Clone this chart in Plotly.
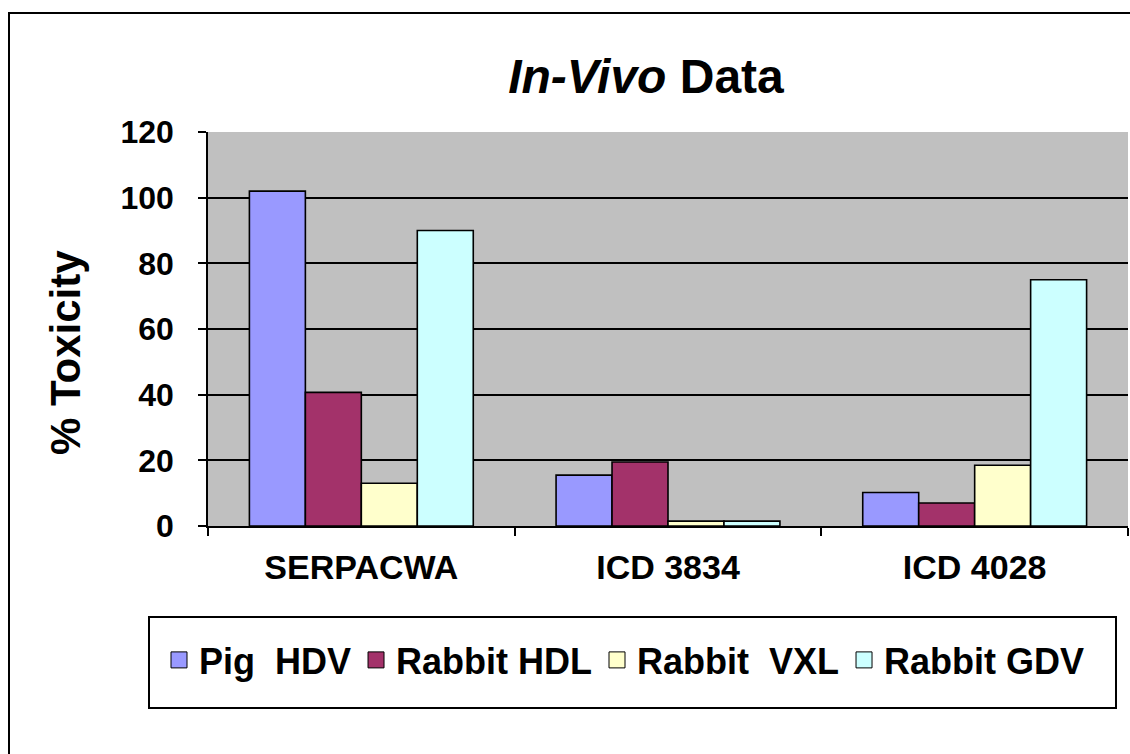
import plotly.graph_objects as go

categories = ["SERPACWA", "ICD 3834", "ICD 4028"]
series_names = ["Pig\u00a0 HDV", "Rabbit HDL", "Rabbit\u00a0 VXL", "Rabbit GDV"]
pig_hdv = [102, 15.5, 10.2]
rabbit_hdl = [40.7, 19.5, 7.0]
rabbit_vxl = [13.0, 1.5, 18.5]
rabbit_gdv = [90.0, 1.5, 75.0]
colors = ["#9999FF", "#A3326A", "#FFFFCC", "#CCFFFF"]
y_ticks = [0, 20, 40, 60, 80, 100, 120]

W, H = 1130, 754
L, R, T, B = 208, 1128, 132, 526
pw, ph = R - L, B - T

def px(x):
    return (x - L) / pw

def py(y):
    return (B - y) / ph

FONT = "Liberation Sans, Arial, sans-serif"

fig = go.Figure()
for name, vals, col in zip(series_names, [pig_hdv, rabbit_hdl, rabbit_vxl, rabbit_gdv], colors):
    fig.add_trace(go.Bar(
        x=categories, y=vals, name=name, showlegend=False, legendgroup=name,
        marker=dict(color=col, line=dict(color="black", width=1.6)),
    ))
# legend entries (larger square swatches than the default bar icon)
for name, col in zip(series_names, colors):
    fig.add_trace(go.Scatter(
        x=[None], y=[None], mode="markers", name=name, legendgroup=name,
        marker=dict(symbol="square", size=16, color=col, line=dict(color="black", width=1)),
    ))

fig.update_layout(
    width=W, height=H,
    margin=dict(l=L, r=W - R, t=T, b=H - B, pad=0),
    paper_bgcolor="white",
    plot_bgcolor="#C0C0C0",
    barmode="group",
    bargap=0.27,
    bargroupgap=0,
    font=dict(family=FONT, color="black", size=30, weight="bold"),
    title=dict(
        text="<b><i>In-Vivo</i> Data</b>",
        font=dict(family=FONT, size=48, color="black"),
        xref="paper", x=px(646), xanchor="center",
        yref="container", y=1 - 76 / H, yanchor="middle",
    ),
    showlegend=True,
    legend=dict(
        orientation="h",
        xref="paper", yref="paper",
        x=px(159), xanchor="left",
        y=py(660), yanchor="middle",
        bgcolor="rgba(0,0,0,0)",
        borderwidth=0,
        font=dict(family=FONT, size=36, color="black", weight="bold"),
        traceorder="normal",
        itemclick=False, itemdoubleclick=False,
    ),
)

fig.update_xaxes(
    type="category",
    range=[-0.5, 2.5],
    tickson="boundaries",
    ticks="outside", ticklen=8, tickwidth=1.5, tickcolor="black",
    showline=True, linecolor="black", linewidth=1.5,
    showgrid=False,
    tickfont=dict(family=FONT, size=34, color="black", weight="bold"),
    ticklabelstandoff=10,
)
fig.update_yaxes(
    range=[0, 120],
    tickvals=y_ticks,
    ticks="outside", ticklen=8, tickwidth=1.5, tickcolor="black",
    showline=True, linecolor="black", linewidth=1.5,
    showgrid=True, gridcolor="black", gridwidth=1.5,
    zeroline=False,
    tickfont=dict(family=FONT, size=32, color="black", weight="bold"),
    ticklabelstandoff=18,
)

# y axis title
fig.add_annotation(
    text="<b>% Toxicity</b>", textangle=-90,
    xref="paper", yref="paper", x=px(65), y=py(353),
    xanchor="center", yanchor="middle", showarrow=False,
    font=dict(family=FONT, size=42, color="black"),
)

# outer chart border
fig.add_shape(type="rect", xref="paper", yref="paper",
              x0=px(9), x1=px(1145), y0=py(770), y1=py(13),
              line=dict(color="black", width=2), fillcolor="rgba(0,0,0,0)", layer="below")
# legend box
fig.add_shape(type="rect", xref="paper", yref="paper",
              x0=px(149), x1=px(1116), y0=py(708), y1=py(617),
              line=dict(color="black", width=2), fillcolor="white", layer="below")

fig.write_html("out.html", config={"displayModeBar": False},
               post_script="document.body.style.margin='0';")
